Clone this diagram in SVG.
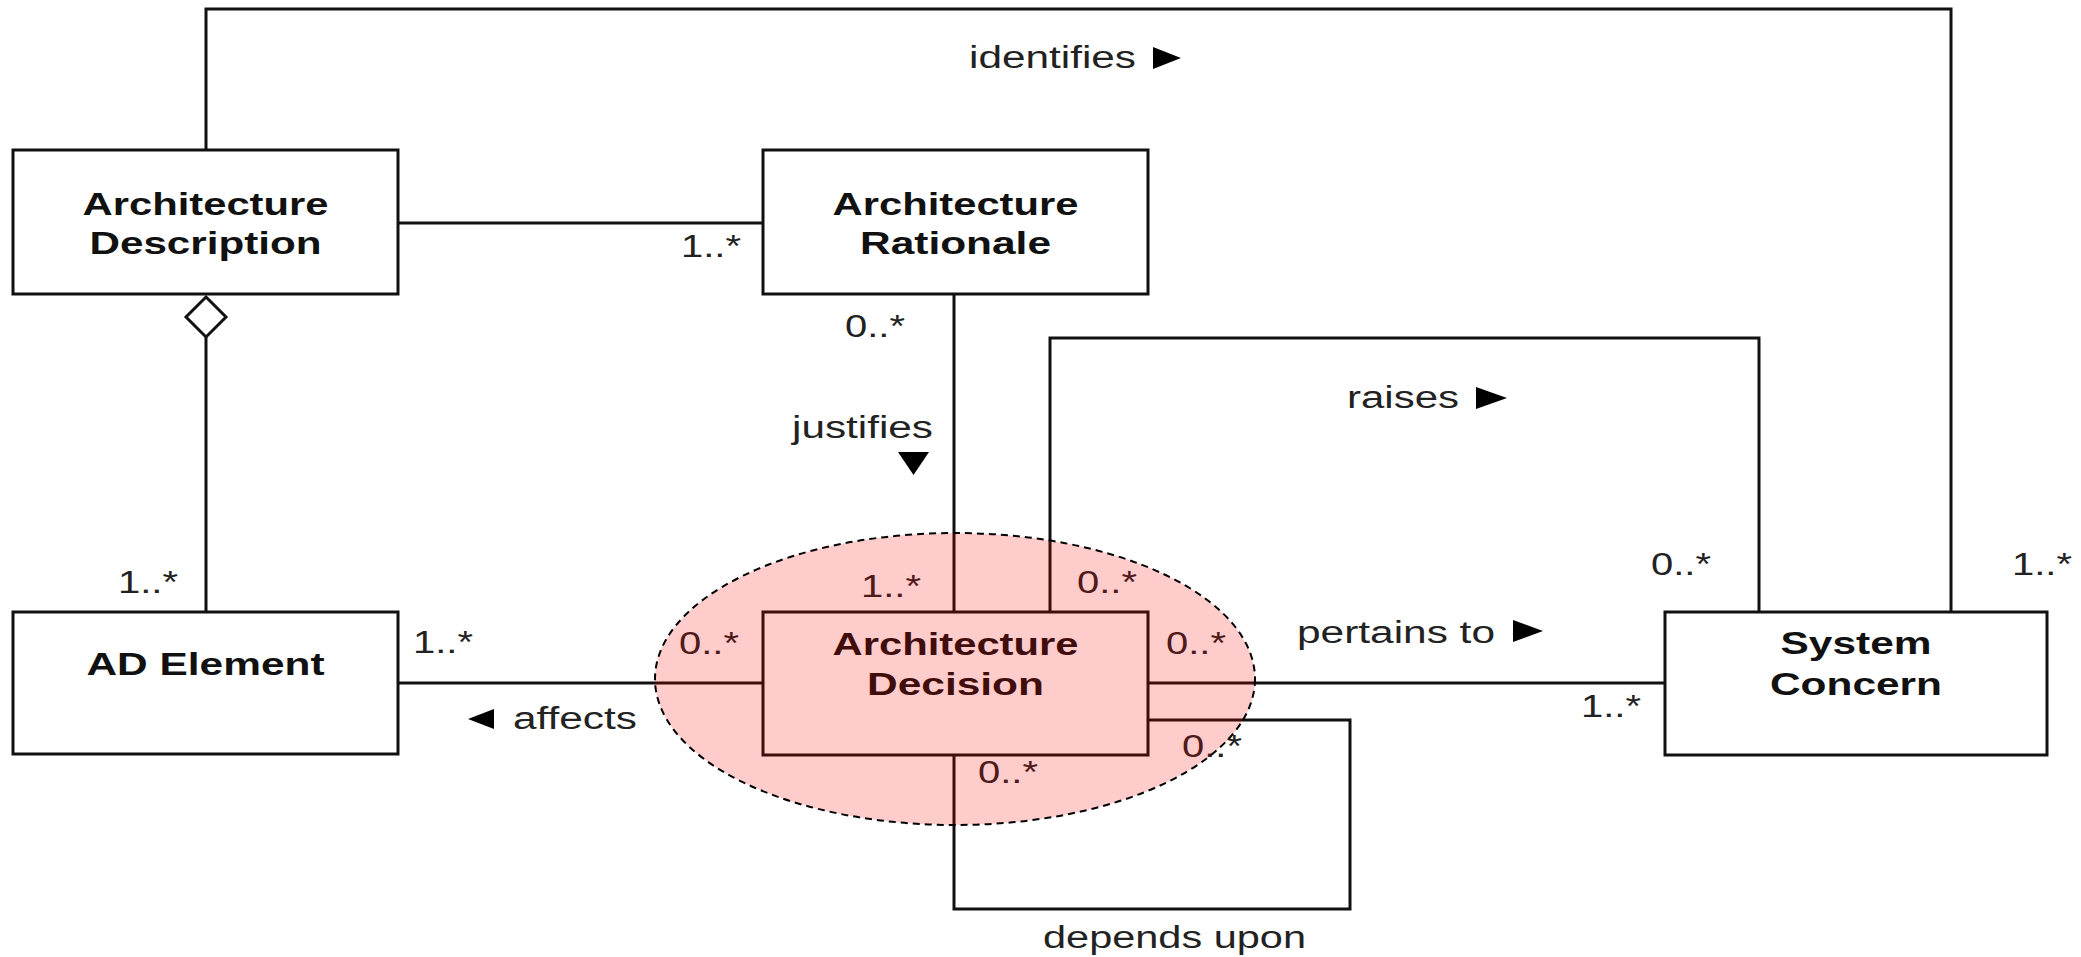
<svg xmlns="http://www.w3.org/2000/svg" width="2081" height="957" viewBox="0 0 2081 957">
<style>
.box{fill:#fff;stroke:#111;stroke-width:3}
.ln{fill:none;stroke:#111;stroke-width:3}
.nt{font-family:"Liberation Sans",Arial,sans-serif;font-weight:bold;font-size:32px;fill:#111;text-anchor:middle}
.lb{font-family:"Liberation Sans",Arial,sans-serif;font-size:31px;fill:#222}
.tri{fill:#000}
</style>
<rect width="2081" height="957" fill="#fff"/>
<g id="connectors">
<polyline class="ln" points="206,150 206,9 1951,9 1951,612"/>
<line class="ln" x1="398" y1="223" x2="763" y2="223"/>
<line class="ln" x1="206" y1="337" x2="206" y2="612"/>
<polygon points="206,297 226,317 206,337 186,317" fill="#fff" stroke="#111" stroke-width="3"/>
<line class="ln" x1="954" y1="294" x2="954" y2="612"/>
<polyline class="ln" points="1050,612 1050,338 1759,338 1759,612"/>
<line class="ln" x1="398" y1="683" x2="763" y2="683"/>
<line class="ln" x1="1148" y1="683" x2="1665" y2="683"/>
<polyline class="ln" points="1148,720 1350,720 1350,909 954,909 954,755"/>
<text class="lb" x="969" y="68" textLength="167" lengthAdjust="spacingAndGlyphs">identifies</text>
<polygon class="tri" points="1153,47 1181,58 1153,69"/>
<text class="lb" x="1347" y="408" textLength="112" lengthAdjust="spacingAndGlyphs">raises</text>
<polygon class="tri" points="1476,387 1507,398 1476,409"/>
<text class="lb" x="792" y="438" textLength="141" lengthAdjust="spacingAndGlyphs">justifies</text>
<polygon class="tri" points="898,452 929,452 913.5,475"/>
<text class="lb" x="1297" y="643" textLength="198" lengthAdjust="spacingAndGlyphs">pertains to</text>
<polygon class="tri" points="1513,620 1543,631 1513,642"/>
<polygon class="tri" points="494,709 468,719 494,729"/>
<text class="lb" x="513" y="729" textLength="124" lengthAdjust="spacingAndGlyphs">affects</text>
<text class="lb" x="1043" y="948" textLength="263" lengthAdjust="spacingAndGlyphs">depends upon</text>
<text class="lb" x="681" y="257" textLength="60" lengthAdjust="spacingAndGlyphs">1..*</text>
<text class="lb" x="845" y="337" textLength="60" lengthAdjust="spacingAndGlyphs">0..*</text>
<text class="lb" x="118" y="593" textLength="60" lengthAdjust="spacingAndGlyphs">1..*</text>
<text class="lb" x="413" y="653" textLength="60" lengthAdjust="spacingAndGlyphs">1..*</text>
<text class="lb" x="679" y="654" textLength="60" lengthAdjust="spacingAndGlyphs">0..*</text>
<text class="lb" x="861" y="597" textLength="60" lengthAdjust="spacingAndGlyphs">1..*</text>
<text class="lb" x="1077" y="593" textLength="60" lengthAdjust="spacingAndGlyphs">0..*</text>
<text class="lb" x="1166" y="654" textLength="60" lengthAdjust="spacingAndGlyphs">0..*</text>
<text class="lb" x="1182" y="757" textLength="60" lengthAdjust="spacingAndGlyphs">0..*</text>
<text class="lb" x="978" y="783" textLength="60" lengthAdjust="spacingAndGlyphs">0..*</text>
<text class="lb" x="1581" y="717" textLength="60" lengthAdjust="spacingAndGlyphs">1..*</text>
<text class="lb" x="1651" y="575" textLength="60" lengthAdjust="spacingAndGlyphs">0..*</text>
<text class="lb" x="2012" y="575" textLength="60" lengthAdjust="spacingAndGlyphs">1..*</text>
</g>
<g id="architecture-description">
<rect class="box" x="13" y="150" width="385" height="144"/>
<text class="nt" x="205.5" y="215" textLength="246" lengthAdjust="spacingAndGlyphs">Architecture</text>
<text class="nt" x="205.5" y="254" textLength="232" lengthAdjust="spacingAndGlyphs">Description</text>
</g>
<g id="architecture-rationale">
<rect class="box" x="763" y="150" width="385" height="144"/>
<text class="nt" x="955.5" y="215" textLength="246" lengthAdjust="spacingAndGlyphs">Architecture</text>
<text class="nt" x="955.5" y="254" textLength="191" lengthAdjust="spacingAndGlyphs">Rationale</text>
</g>
<g id="ad-element">
<rect class="box" x="13" y="612" width="385" height="142"/>
<text class="nt" x="205.5" y="675" textLength="238" lengthAdjust="spacingAndGlyphs">AD Element</text>
</g>
<g id="architecture-decision">
<rect class="box" x="763" y="612" width="385" height="143"/>
<text class="nt" x="955.5" y="655" textLength="246" lengthAdjust="spacingAndGlyphs">Architecture</text>
<text class="nt" x="955.5" y="695" textLength="177" lengthAdjust="spacingAndGlyphs">Decision</text>
</g>
<g id="system-concern">
<rect class="box" x="1665" y="612" width="382" height="143"/>
<text class="nt" x="1856" y="654" textLength="151" lengthAdjust="spacingAndGlyphs">System</text>
<text class="nt" x="1856" y="695" textLength="172" lengthAdjust="spacingAndGlyphs">Concern</text>
</g>
<g id="highlight">
<ellipse cx="955" cy="679" rx="300" ry="146" fill="#ff0000" fill-opacity="0.2" stroke="#000" stroke-width="2" stroke-dasharray="7,5"/>
</g>
</svg>
